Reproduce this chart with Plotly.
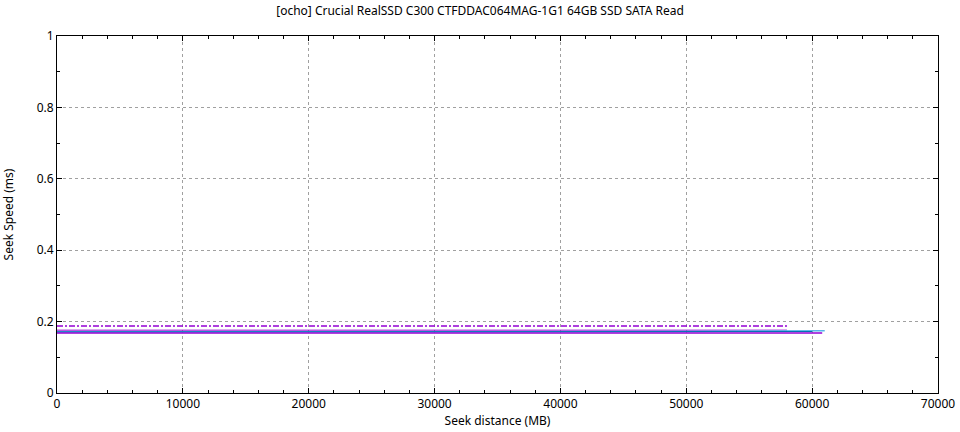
import plotly.graph_objects as go

# Seek distance samples (MB)
dist_a = [0, 4000, 8000, 12000, 16000, 20000, 24000, 28000, 32000, 36000, 40000, 44000, 48000, 52000, 55000, 58000]
speed_a = [0.1875, 0.1876, 0.1875, 0.1877, 0.1875, 0.1876, 0.1875, 0.1876, 0.1875, 0.1876, 0.1875, 0.1876, 0.1875, 0.1876, 0.1875, 0.1876]

dist_b = [0, 5000, 10000, 15000, 20000, 25000, 30000, 35000, 40000, 45000, 50000, 55000, 58000]
speed_b = [0.1760, 0.1759, 0.1760, 0.1759, 0.1760, 0.1759, 0.1760, 0.1759, 0.1760, 0.1759, 0.1760, 0.1759, 0.1760]

dist_c = [0, 5000, 10000, 15000, 20000, 25000, 30000, 35000, 40000, 45000, 50000, 55000, 61000]
speed_c = [0.1715, 0.1714, 0.1715, 0.1714, 0.1715, 0.1714, 0.1715, 0.1714, 0.1715, 0.1714, 0.1720, 0.1735, 0.1745]

dist_d = [0, 10000, 20000, 30000, 40000, 50000, 55000, 60000]
speed_d = [0.1712, 0.1712, 0.1712, 0.1712, 0.1712, 0.1715, 0.1720, 0.1722]

dist_e = [0, 5000, 10000, 15000, 20000, 25000, 30000, 35000, 40000, 45000, 50000, 55000, 60800]
speed_e = [0.1680, 0.1681, 0.1680, 0.1681, 0.1680, 0.1681, 0.1680, 0.1681, 0.1680, 0.1681, 0.1680, 0.1681, 0.1680]

x_ticks = [0, 10000, 20000, 30000, 40000, 50000, 60000, 70000]
y_ticks = [0, 0.2, 0.4, 0.6, 0.8, 1]
y_labels = ["0", "0.2", "0.4", "0.6", "0.8", "1"]

purple = "#9400d3"
lightblue = "#56b4e9"
blue = "#0072b2"

fig = go.Figure()
fig.add_trace(go.Scatter(x=dist_a, y=speed_a, mode="lines",
                         line=dict(color=purple, width=1.5, dash="6px,2px,2px,2px"), showlegend=False))
fig.add_trace(go.Scatter(x=dist_b, y=speed_b, mode="lines",
                         line=dict(color=purple, width=1), showlegend=False))
fig.add_trace(go.Scatter(x=dist_c, y=speed_c, mode="lines",
                         line=dict(color=lightblue, width=1.5), showlegend=False))
fig.add_trace(go.Scatter(x=dist_d, y=speed_d, mode="lines",
                         line=dict(color=blue, width=1), showlegend=False))
fig.add_trace(go.Scatter(x=dist_e, y=speed_e, mode="lines",
                         line=dict(color=purple, width=1.5), showlegend=False))

font = "Noto Sans"
fig.update_layout(
    width=960, height=432,
    margin=dict(l=57, r=22, t=36, b=39, autoexpand=False),
    paper_bgcolor="white", plot_bgcolor="white",
    font=dict(family=font, size=12, color="black"),
    title=dict(text="[ocho] Crucial RealSSD C300 CTFDDAC064MAG-1G1 64GB SSD SATA Read",
               x=0.5, xanchor="center", y=0.985, yanchor="top",
               font=dict(family=font, size=12)),
)
fig.update_xaxes(
    range=[0, 70000], tickvals=x_ticks, ticktext=[str(v) for v in x_ticks],
    automargin=False,
    showline=True, linecolor="black", linewidth=1, mirror="allticks",
    ticks="inside", ticklen=5, tickcolor="black",
    minor=dict(ticks="inside", dtick=2000, ticklen=3, tickcolor="black", showgrid=False),
    showgrid=True, gridcolor="#a0a0a0", griddash="dot", gridwidth=1,
    zeroline=False,
    title=dict(text="Seek distance (MB)", standoff=2, font=dict(size=12)),
)
fig.update_yaxes(
    range=[0, 1], tickvals=y_ticks, ticktext=y_labels,
    automargin=False,
    showline=True, linecolor="black", linewidth=1, mirror="allticks",
    ticks="inside", ticklen=5, tickcolor="black",
    minor=dict(ticks="inside", dtick=0.1, ticklen=3, tickcolor="black", showgrid=False),
    showgrid=True, gridcolor="#a0a0a0", griddash="dot", gridwidth=1,
    zeroline=False,
    title=dict(text="Seek Speed (ms)", standoff=20, font=dict(size=12)),
)
fig.write_html("out.html",
               config={"displayModeBar": False, "staticPlot": True},
               post_script="document.body.style.margin='0';document.body.style.overflow='hidden';")
